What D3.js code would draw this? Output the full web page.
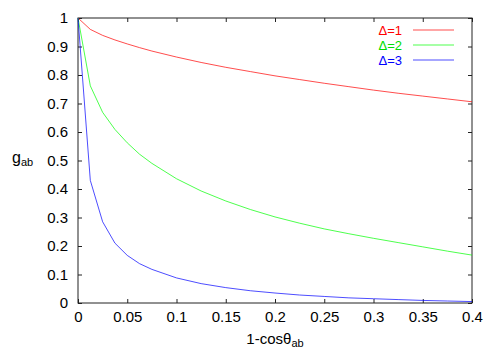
<!DOCTYPE html>
<html>
<head>
<meta charset="utf-8">
<script src="https://cdn.jsdelivr.net/npm/d3@7"></script>
<style>
  body { margin: 0; background: #fff; }
  svg { display: block; font-family: "Liberation Sans", Arial, sans-serif; }
</style>
</head>
<body>
<svg id="chart" width="498" height="349"></svg>
<script>
// sample points along 1-cos(theta_ab)
var xVals = [0, 0.0125, 0.025, 0.0375, 0.05, 0.0625, 0.075, 0.1, 0.125, 0.15, 0.175, 0.2,
             0.225, 0.25, 0.275, 0.3, 0.325, 0.35, 0.375, 0.4];
// g_ab for each Delta
var delta1 = [1, 0.960, 0.939, 0.923, 0.909, 0.896, 0.884, 0.863, 0.844, 0.827, 0.812, 0.797,
              0.784, 0.771, 0.759, 0.747, 0.736, 0.726, 0.716, 0.706];
var delta2 = [1, 0.762, 0.669, 0.609, 0.562, 0.522, 0.490, 0.436, 0.393, 0.358, 0.328, 0.302,
              0.280, 0.260, 0.243, 0.227, 0.212, 0.197, 0.182, 0.168];
var delta3 = [1, 0.430, 0.285, 0.210, 0.167, 0.138, 0.118, 0.088, 0.068, 0.054, 0.043, 0.035,
              0.028, 0.023, 0.018, 0.015, 0.012, 0.009, 0.007, 0.005];
var seriesNames = ["\u0394=1", "\u0394=2", "\u0394=3"];
var seriesColors = ["#ff0000", "#00ff00", "#0000ff"];
var xTicks = [0, 0.05, 0.1, 0.15, 0.2, 0.25, 0.3, 0.35, 0.4];
var yTicks = [0, 0.1, 0.2, 0.3, 0.4, 0.5, 0.6, 0.7, 0.8, 0.9, 1];

var margin = {left: 78, top: 18, right: 26, bottom: 46};
var width = 498 - margin.left - margin.right;   // 394
var height = 349 - margin.top - margin.bottom;  // 285
var tickLen = 4;
var fontSize = 15;

var svg = d3.select("#chart");
var g = svg.append("g").attr("transform", "translate(" + margin.left + "," + margin.top + ")");

var x = d3.scaleLinear().domain([0, 0.4]).range([0, width]);
var y = d3.scaleLinear().domain([0, 1]).range([height, 0]);

var fmt = function(d){ return String(d); };

// bottom + top axes, ticks pointing inward
var xBottom = g.append("g").attr("transform", "translate(0," + height + ")")
  .call(d3.axisBottom(x).tickValues(xTicks).tickFormat(fmt).tickSizeInner(-tickLen).tickSizeOuter(0).tickPadding(8));
var xTop = g.append("g")
  .call(d3.axisTop(x).tickValues(xTicks).tickFormat("").tickSizeInner(-tickLen).tickSizeOuter(0));
var yLeft = g.append("g")
  .call(d3.axisLeft(y).tickValues(yTicks).tickFormat(fmt).tickSizeInner(-tickLen).tickSizeOuter(0).tickPadding(10));
var yRight = g.append("g").attr("transform", "translate(" + width + ",0)")
  .call(d3.axisRight(y).tickValues(yTicks).tickFormat("").tickSizeInner(-tickLen).tickSizeOuter(0));

[xBottom, xTop, yLeft, yRight].forEach(function(a){
  a.select(".domain").remove();
  a.selectAll(".tick line").attr("stroke", "#222");
  a.selectAll(".tick text").attr("font-size", fontSize).attr("fill", "#000")
    .attr("font-family", "Liberation Sans, Arial, sans-serif");
});

// border
g.append("rect").attr("x", 0).attr("y", 0).attr("width", width).attr("height", height)
  .attr("fill", "none").attr("stroke", "#222").attr("stroke-width", 1);

// curves
var allSeries = [delta1, delta2, delta3];
var line = d3.line().x(function(d){ return x(d[0]); }).y(function(d){ return y(d[1]); });
allSeries.forEach(function(vals, i){
  var pts = xVals.map(function(xv, k){ return [xv, vals[k]]; });
  g.append("path").datum(pts)
    .attr("fill", "none")
    .attr("stroke", seriesColors[i])
    .attr("stroke-width", 0.7)
    .attr("d", line);
});

// legend
var legend = svg.append("g");
seriesNames.forEach(function(name, i){
  var ly = 30 + i * 15;
  legend.append("text").attr("x", 402).attr("y", ly + 5)
    .attr("text-anchor", "end").attr("font-size", 13)
    .attr("fill", seriesColors[i] === "#00ff00" ? "#00dd00" : seriesColors[i])
    .text(name);
  legend.append("line").attr("x1", 413).attr("x2", 454).attr("y1", ly).attr("y2", ly)
    .attr("stroke", seriesColors[i]).attr("stroke-width", 0.7);
});

// axis titles
var xl = svg.append("text").attr("x", margin.left + width / 2).attr("y", 344)
  .attr("text-anchor", "middle").attr("font-size", fontSize).attr("fill", "#000");
xl.append("tspan").text("1-cos\u03b8");
xl.append("tspan").attr("font-size", 11).attr("dy", 3).text("ab");

var yl = svg.append("text").attr("x", 12).attr("y", 163).attr("font-size", 16).attr("fill", "#000");
yl.append("tspan").text("g");
yl.append("tspan").attr("font-size", 11).attr("dy", 3).text("ab");
</script>
</body>
</html>
